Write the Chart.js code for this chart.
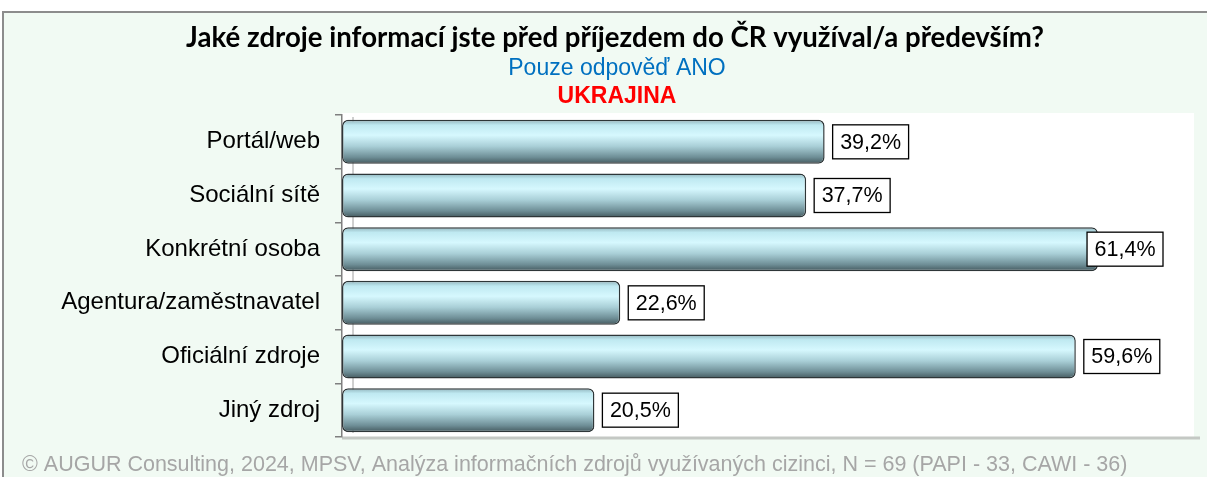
<!DOCTYPE html>
<html>
<head>
<meta charset="utf-8">
<script src="https://cdn.jsdelivr.net/npm/chart.js@4"></script>
<style>
  html, body { margin: 0; padding: 0; background: #ffffff; }
  #wrap { width: 1207px; height: 477px; position: relative; }
</style>
</head>
<body>
<div id="wrap"><canvas id="chart" width="1207" height="477"></canvas></div>
<script>
const categories = ['Portál/web', 'Sociální sítě', 'Konkrétní osoba', 'Agentura/zaměstnavatel', 'Oficiální zdroje', 'Jiný zdroj'];
const values = [39.2, 37.7, 61.4, 22.6, 59.6, 20.5];
const valueLabels = ['39,2%', '37,7%', '61,4%', '22,6%', '59,6%', '20,5%'];

const titleText = 'Jaké zdroje informací jste před příjezdem do ČR využíval/a především?';
const subText = 'Pouze odpověď ANO';
const countryText = 'UKRAJINA';
const footerText = '© AUGUR Consulting, 2024, MPSV, Analýza informačních zdrojů využívaných cizinci, N = 69 (PAPI - 33, CAWI - 36)';

// frame, mint background, white plot wall
const backdrop = {
    id: 'backdrop',
    beforeDraw(chart) {
        const c = chart.ctx;
        const a = chart.chartArea;
        c.save();
        c.fillStyle = '#ffffff';
        c.fillRect(0, 0, chart.width, chart.height);
        c.fillStyle = '#f1faf3';
        c.fillRect(3, 12, chart.width, chart.height);
        c.strokeStyle = '#8c8c8c';
        c.lineWidth = 2;
        c.beginPath();
        c.moveTo(3, chart.height);
        c.lineTo(3, 12);
        c.lineTo(chart.width, 12);
        c.stroke();
        c.fillStyle = '#ffffff';
        c.fillRect(a.left, a.top - 2, a.right - a.left, a.bottom - a.top + 2);
        // back wall edge
        c.strokeStyle = '#a0a0a0';
        c.lineWidth = 1;
        c.beginPath();
        c.moveTo(a.left + 11, a.top + 2);
        c.lineTo(a.left + 11, a.bottom - 4);
        c.stroke();
        // floor
        c.strokeStyle = '#c4c8c4';
        c.lineWidth = 3;
        c.beginPath();
        c.moveTo(a.left, a.bottom + 1);
        c.lineTo(a.right + 6, a.bottom + 1);
        c.stroke();
        c.restore();
    }
};

// texts above and below
const texts = {
    id: 'texts',
    afterDraw(chart) {
        const c = chart.ctx;
        c.save();
        c.textAlign = 'center';
        c.textBaseline = 'middle';
        c.fillStyle = '#000000';
        c.font = 'bold 27.6px Lato';
        c.fillText(titleText, 615, 38);
        c.fillStyle = '#0070c0';
        c.font = '23px "Liberation Sans"';
        c.fillText(subText, 617, 69);
        c.fillStyle = '#ff0000';
        c.font = 'bold 23px "Liberation Sans"';
        c.fillText(countryText, 617, 97);
        c.textAlign = 'left';
        c.fillStyle = '#a6a6a6';
        c.font = '21.5px "Liberation Sans"';
        c.fillText(footerText, 22, 465);
        c.restore();
    }
};

// boxed value labels
const valueBoxes = {
    id: 'valueBoxes',
    afterDatasetsDraw(chart) {
        const c = chart.ctx;
        const a = chart.chartArea;
        const meta = chart.getDatasetMeta(0);
        c.save();
        c.font = '21.5px "Liberation Sans"';
        c.textBaseline = 'middle';
        c.textAlign = 'center';
        meta.data.forEach((bar, i) => {
            const txt = valueLabels[i];
            const w = c.measureText(txt).width + 15;
            const h = 34;
            let x = bar.x + 8;
            if (x + w > a.right - 31) x = a.right - 31 - w;
            const y = bar.y - h / 2;
            c.fillStyle = '#ffffff';
            c.fillRect(x, y, w, h);
            c.strokeStyle = '#000000';
            c.lineWidth = 1.3;
            c.strokeRect(x, y, w, h);
            c.fillStyle = '#000000';
            c.fillText(txt, x + w / 2, bar.y + 1);
        });
        c.restore();
    }
};

function barGradient(ctx) {
    const chart = ctx.chart;
    const a = chart.chartArea;
    if (!a || ctx.dataIndex === undefined) return '#b9e6ef';
    const yScale = chart.scales.y;
    const mid = yScale.getPixelForValue(ctx.dataIndex);
    const half = (yScale.height / categories.length) * 0.82 / 2;
    const g = chart.ctx.createLinearGradient(0, mid - half, 0, mid + half);
    g.addColorStop(0, '#8fb2ba');
    g.addColorStop(0.12, '#bfe9f1');
    g.addColorStop(0.35, '#d6f8fe');
    g.addColorStop(0.6, '#a9cfd7');
    g.addColorStop(0.85, '#6e8e96');
    g.addColorStop(1, '#43585d');
    return g;
}

const chart = new Chart(document.getElementById('chart'), {
    type: 'bar',
    data: {
        labels: categories,
        datasets: [{
            data: values,
            backgroundColor: barGradient,
            borderColor: '#2e3638',
            borderWidth: 1.5,
            borderSkipped: false,
            borderRadius: 6,
            categoryPercentage: 0.82,
            barPercentage: 1
        }]
    },
    options: {
        indexAxis: 'y',
        responsive: false,
        animation: false,
        layout: {
            padding: { top: 115, right: 13, bottom: 40, left: 0 }
        },
        plugins: {
            legend: { display: false },
            tooltip: { enabled: false }
        },
        scales: {
            x: {
                display: false,
                min: 0,
                max: 69.2
            },
            y: {
                afterFit(scale) { scale.width = 342; },
                grid: {
                    display: true,
                    drawOnChartArea: false,
                    offset: true,
                    tickLength: 7,
                    color: '#7f7f7f',
                    lineWidth: 1.5
                },
                border: { display: true, color: '#7f7f7f', width: 1.5 },
                ticks: {
                    color: '#000000',
                    padding: 15,
                    font: { family: '"Liberation Sans"', size: 24 }
                }
            }
        }
    },
    plugins: [backdrop, texts, valueBoxes]
});
</script>
</body>
</html>
